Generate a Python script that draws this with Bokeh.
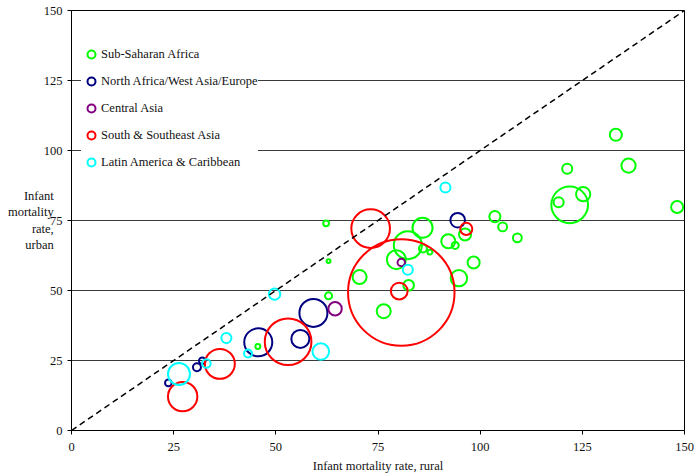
import numpy as np
from bokeh.plotting import figure
from bokeh.models import Slope, FixedTicker
from bokeh.embed import file_html
from bokeh.resources import INLINE

# ---- data: (rural IMR, urban IMR, population weight) per region ----
ssa_rural = [133.2, 136.3, 121.3, 125.2, 121.9, 119.2, 148.2, 103.6, 105.5, 109.1,
             62.3, 62.9, 85.9, 82.3, 79.5, 86.0, 87.7, 70.5, 82.5, 76.4,
             62.9, 92.2, 93.9, 96.3, 98.4, 94.8, 45.6]
ssa_urban = [105.6, 94.6, 93.5, 84.4, 80.6, 81.5, 79.8, 76.4, 72.7, 68.8,
             74.0, 60.5, 72.4, 66.2, 61.0, 65.0, 63.7, 54.8, 51.9, 42.6,
             48.1, 67.6, 66.1, 70.0, 60.0, 54.4, 30.0]
ssa_pop = [13, 18, 9, 18, 120, 9, 13, 11, 7, 7,
           3, 1.4, 36, 70, 32, 5.7, 2.2, 17.5, 10, 17.5,
           4.4, 17.5, 4.4, 13, 13, 24, 2.2]

nawe_rural = [94.5, 59.2, 45.7, 56.0, 32.0, 30.7, 23.7]
nawe_urban = [75.1, 42.0, 31.5, 32.7, 24.9, 22.6, 17.0]
nawe_pop = [19, 70, 70, 29, 3.9, 5.7, 3.9]

ca_rural = [80.7, 64.5]
ca_urban = [60.0, 43.5]
ca_pop = [5, 16]

ssea_rural = [73.2, 80.7, 80.2, 96.6, 53.0, 36.3, 27.2]
ssea_urban = [72.1, 49.3, 49.8, 72.0, 31.7, 23.8, 12.1]
ssea_pop = [133, 1010, 25, 13, 194, 80, 77]

lac_rural = [91.5, 82.3, 49.7, 37.9, 61.0, 43.2, 33.0, 26.3]
lac_urban = [86.8, 57.4, 48.7, 33.0, 28.2, 27.5, 23.9, 20.2]
lac_pop = [9, 9, 11.5, 9, 24.5, 5.7, 6.6, 43]

regions = ["Sub-Saharan Africa", "North Africa/West Asia/Europe", "Central Asia",
           "South & Southeast Asia", "Latin America & Caribbean"]
colors = ["#00FF00", "#000080", "#800080", "#FF0000", "#00FFFF"]
ticks = [0, 25, 50, 75, 100, 125, 150]
x_title = "Infant mortality rate, rural"
y_title = "Infant\nmortality\nrate,\nurban"

series = [(ssa_rural, ssa_urban, ssa_pop), (nawe_rural, nawe_urban, nawe_pop),
          (ca_rural, ca_urban, ca_pop), (ssea_rural, ssea_urban, ssea_pop),
          (lac_rural, lac_urban, lac_pop)]

FONT = "Liberation Serif"
FS = "12.5px"

p = figure(width=695, height=476, x_range=(0, 150), y_range=(0, 150),
           output_backend="svg", toolbar_location=None, title=None,
           min_border_left=71, min_border_right=11, min_border_top=10,
           min_border_bottom=46)

p.background_fill_color = "white"
p.border_fill_color = "white"
p.outline_line_color = "black"
p.outline_line_width = 1

p.xgrid.visible = False
p.ygrid.ticker = FixedTicker(ticks=ticks)
p.ygrid.grid_line_color = "#3a3a3a"
p.ygrid.grid_line_width = 1

for ax in (p.xaxis[0], p.yaxis[0]):
    ax.ticker = FixedTicker(ticks=ticks)
    ax.axis_line_color = "black"
    ax.major_tick_line_color = "black"
    ax.major_tick_in = 0
    ax.major_tick_out = 4
    ax.minor_tick_line_color = None
    ax.major_label_text_font = FONT
    ax.major_label_text_font_size = FS
    ax.major_label_text_color = "#111111"
    ax.axis_label_text_font = FONT
    ax.axis_label_text_font_style = "normal"
    ax.axis_label_text_font_size = FS
    ax.axis_label_text_color = "#111111"

p.xaxis.major_label_standoff = 8
p.yaxis.major_label_standoff = 5
p.xaxis.axis_label = x_title
p.xaxis.axis_label_standoff = 5

p.yaxis.axis_label = y_title
p.yaxis.axis_label_orientation = "horizontal"
p.yaxis.axis_label_text_align = "center"
p.yaxis.axis_label_text_line_height = 1.15
p.yaxis.axis_label_standoff = -13

# diagonal y = x
p.add_layout(Slope(gradient=1, y_intercept=0, line_color="black",
                   line_width=1.5, line_dash="6 4"))

SCALE = 3.35
for (xs, ys, pops), name, col in zip(series, regions, colors):
    sizes = SCALE * np.sqrt(np.array(pops, dtype=float))
    p.scatter(x=xs, y=ys, size=sizes, marker="circle", fill_color=None,
              line_color=col, line_width=2, legend_label=name)

leg = p.legend[0]
leg.location = (10, 258)
leg.background_fill_color = "white"
leg.background_fill_alpha = 1
leg.border_line_color = None
leg.label_text_font = FONT
leg.label_text_font_size = FS
leg.label_text_color = "#111111"
leg.glyph_width = 20
leg.glyph_height = 20
leg.label_height = 20
leg.spacing = 7
leg.padding = 4
leg.margin = 0
leg.label_standoff = -3

open("out.html", "w").write(file_html(p, INLINE))
